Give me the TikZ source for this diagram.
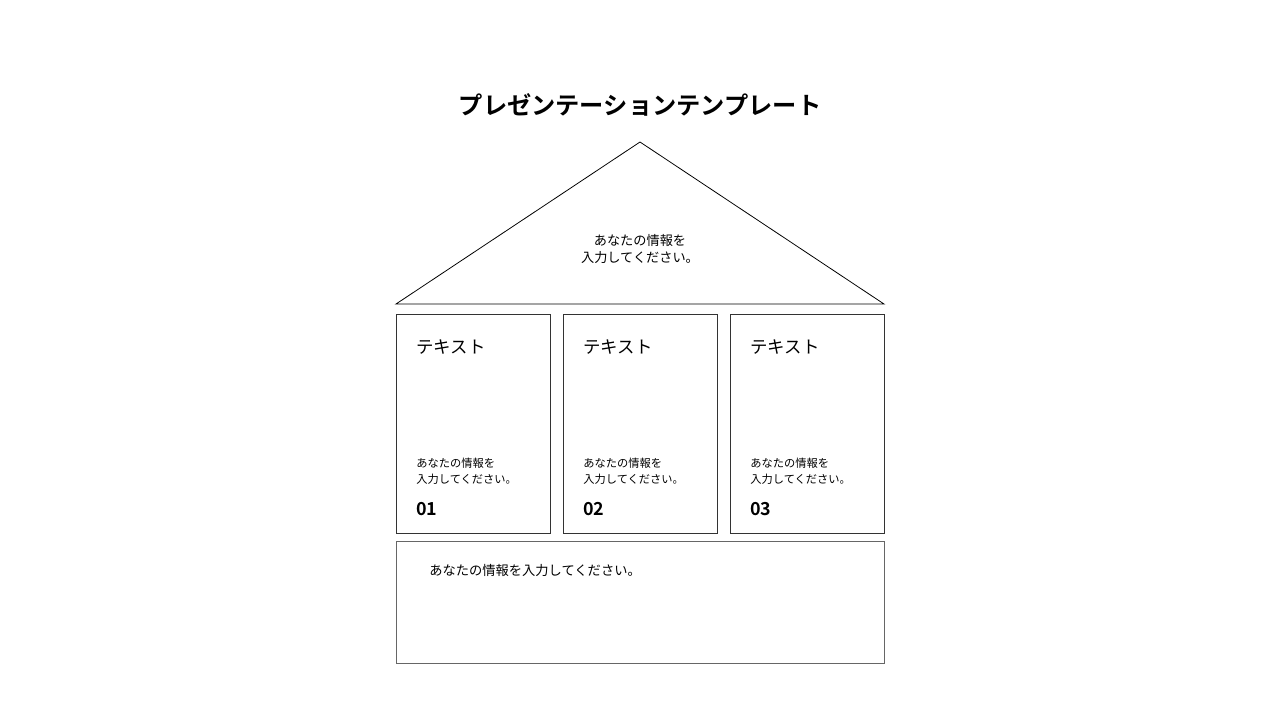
\documentclass[tikz,border=0pt]{standalone}
\usepackage{fontspec}
\setmainfont{Noto Sans CJK JP}[BoldFont={Noto Sans CJK JP Bold}]
\usepackage{xcolor}
\definecolor{pillarline}{HTML}{333333}
\definecolor{baseframe}{HTML}{666666}

\begin{document}
\begin{tikzpicture}[x=0.02cm, y=-0.02cm,
        title/.style={font=\bfseries\fontsize{13.8}{17}\selectfont, inner sep=0pt},
        roofnote/.style={font=\fontsize{7.5}{10.2}\selectfont, align=center, inner sep=0pt},
        pillarhead/.style={font=\fontsize{9.9}{12}\selectfont, anchor=west, inner sep=0pt},
        pillarnote/.style={font=\fontsize{6.4}{9.1}\selectfont, align=left, anchor=west, inner sep=0pt},
        pillarnum/.style={font=\bfseries\fontsize{10.2}{12}\selectfont, anchor=west, inner sep=0pt},
        basenote/.style={font=\fontsize{7.55}{9}\selectfont, anchor=west, inner sep=0pt}]
        \useasboundingbox (0,0) rectangle (1280,720);

        % Title
        \node[title] (title) at (640,105) {プレゼンテーションテンプレート};

        % Roof
        \draw[line width=0.45pt] (396,304) -- (640,142) -- (884,304) -- cycle;
        \node[roofnote] (roof) at (640,249) {あなたの情報を\\入力してください。};

        % Pillar 1
        \draw[pillarline, line width=0.45pt] (396,314) rectangle (550,533);
        \node[pillarhead] (head1) at (416,347.5) {テキスト};
        \node[pillarnote] (note1) at (416,471.5) {あなたの情報を\\入力してください。};
        \node[pillarnum] (num1) at (416,509.5) {01};

        % Pillar 2
        \draw[pillarline, line width=0.45pt] (563,314) rectangle (717,533);
        \node[pillarhead] (head2) at (583,347.5) {テキスト};
        \node[pillarnote] (note2) at (583,471.5) {あなたの情報を\\入力してください。};
        \node[pillarnum] (num2) at (583,509.5) {02};

        % Pillar 3
        \draw[pillarline, line width=0.45pt] (730,314) rectangle (884,533);
        \node[pillarhead] (head3) at (750,347.5) {テキスト};
        \node[pillarnote] (note3) at (750,471.5) {あなたの情報を\\入力してください。};
        \node[pillarnum] (num3) at (750,509.5) {03};

        % Base
        \draw[baseframe, line width=0.45pt] (396,541) rectangle (884,663);
        \node[basenote] (base) at (429,570.5) {あなたの情報を入力してください。};
    \end{tikzpicture}
\end{document}
